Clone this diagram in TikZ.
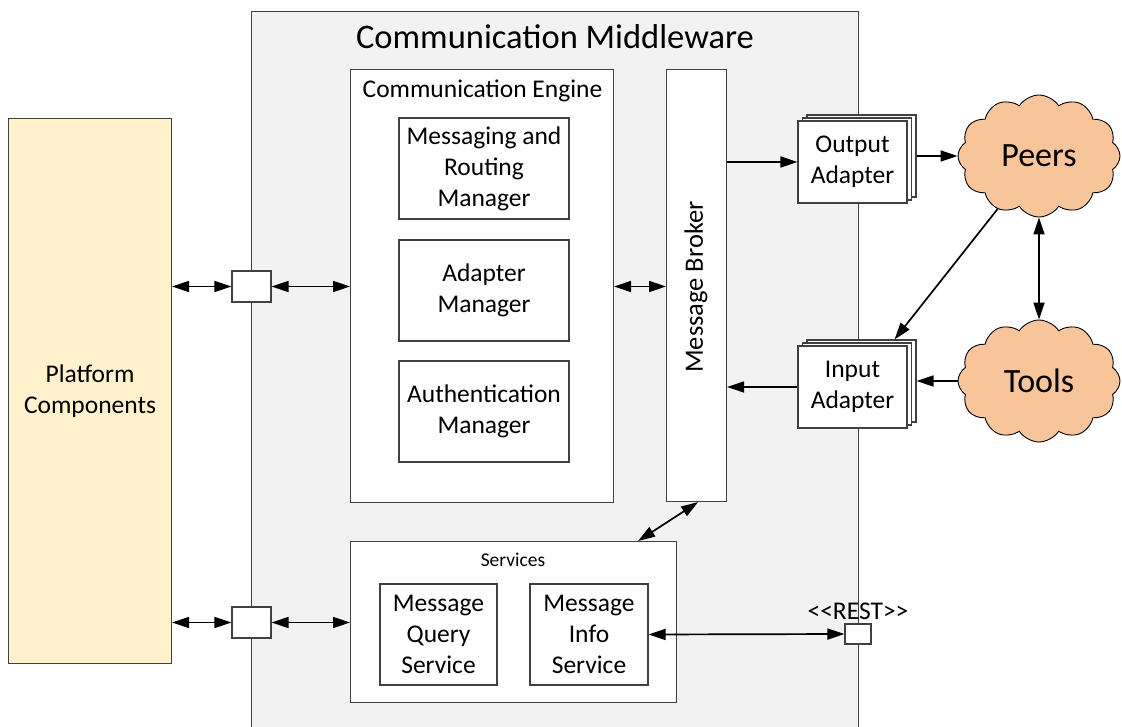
\documentclass[tikz,border=0pt]{standalone}
\usepackage{fontspec}
\setmainfont{Carlito}
\usetikzlibrary{arrows.meta,shapes.symbols}
\definecolor{edgegray}{HTML}{404040}
\definecolor{mwfill}{HTML}{F2F2F2}
\definecolor{platfill}{HTML}{FFF2CC}
\definecolor{cloudfill}{HTML}{F8C49A}
\begin{document}
\begin{tikzpicture}[x=1pt,y=-1pt,
  box/.style={draw=edgegray,line width=1.1pt,fill=white,align=center,
    inner sep=0pt,font=\fontsize{25.5}{31}\selectfont},
  port/.style={draw=edgegray,line width=1.1pt,fill=white,inner sep=0pt},
  cloudnode/.style={cloud,cloud puffs=12,cloud puff arc=115,aspect=1.35,
    draw=black,line width=0.9pt,fill=cloudfill,inner sep=0pt,
    font=\fontsize{34}{36}\selectfont},
  tip/.tip={Triangle[length=17pt,width=11pt]},
  link/.style={line width=1.7pt,-tip},
  bilink/.style={line width=1.7pt,tip-tip},
  plain/.style={inner sep=0pt}]
\useasboundingbox (0,0) rectangle (1122,727);

% platform side
\node[box,fill=platfill,minimum width=163,minimum height=545,anchor=north west]
  (plat) at (8,118) {Platform\\Components};

% middleware container (runs off the bottom edge)
\node[draw=edgegray,line width=1.1pt,fill=mwfill,minimum width=607,minimum height=740,
  anchor=north west,inner sep=0pt] (mw) at (251,11) {};
\node[plain,font=\fontsize{34.5}{38}\selectfont] (mwtitle) at (555,37) {Communication Middleware};

% communication engine
\node[box,minimum width=263,minimum height=433,anchor=north west] (ce) at (350,69) {};
\node[plain,font=\fontsize{25.5}{28}\selectfont] (cetitle) at (482.5,91) {Communication Engine};
\node[box,minimum width=170,minimum height=101] (mrm) at (484,168.5) {Messaging and\\Routing\\Manager};
\node[box,minimum width=170,minimum height=101] (am) at (484,290.5) {Adapter\\Manager};
\node[box,minimum width=170,minimum height=101] (aum) at (484,411.5) {Authentication\\Manager};

% message broker
\node[box,minimum width=60,minimum height=432,anchor=north west] (mb) at (666,69) {};
\node[plain,rotate=90,font=\fontsize{26.5}{28}\selectfont] (mbtext) at (696,287) {Message Broker};

% services
\node[box,minimum width=326,minimum height=161,anchor=north west] (svc) at (350,541) {};
\node[plain,font=\fontsize{19.5}{22}\selectfont] (svctitle) at (513,560) {Services};
\node[box,minimum width=117,minimum height=101] (mqs) at (438.5,634.5) {Message\\Query\\Service};
\node[box,minimum width=118,minimum height=101] (mis) at (589,634.5) {Message\\Info\\Service};

% ports on the container border
\node[port,minimum width=39,minimum height=31] (p1) at (251.5,286.5) {};
\node[port,minimum width=39,minimum height=31] (p2) at (251.5,622.5) {};
\node[port,minimum width=26,minimum height=20] (rest) at (858,634) {};
\node[plain,anchor=south,font=\fontsize{25.5}{28}\selectfont] (resttext) at (858,620) {<{}<REST>{}>};

% stacked adapters
\foreach \n/\cy/\txt in {oa/162/{Output\\Adapter},ia/387/{Input\\Adapter}}{
  \node[box,minimum width=109,minimum height=82] (\n3) at (861.5,\cy-6) {};
  \node[box,minimum width=109,minimum height=82] (\n2) at (857,\cy-3) {};
  \node[box,minimum width=109,minimum height=82] (\n) at (852.5,\cy) {\txt};
}

% external clouds
\node[cloudnode,minimum width=162,minimum height=122] (peers) at (1039,156) {Peers};
\node[cloudnode,minimum width=162,minimum height=122] (tools) at (1039,381) {Tools};

% connectors
\draw[bilink] (plat.east |- p1) -- (p1.west);
\draw[bilink] (p1.east) -- (ce.west |- p1);
\draw[bilink] (plat.east |- p2) -- (p2.west);
\draw[bilink] (p2.east) -- (svc.west |- p2);
\draw[bilink] (ce.east |- p1) -- (mb.west |- p1);
\draw[link] (mb.east |- oa.west) -- (oa.west);
\draw[link] (oa3.east |- peers.west) -- (peers.west);
\draw[link] (peers.232) -- ([xshift=-22pt]ia3.north east);
\draw[bilink] (peers.south) -- (tools.north);
\draw[link] (tools.west) -- (ia3.east |- tools.west);
\draw[link] (ia.west) -- (mb.east |- ia.west);
\draw[bilink] ([xshift=-29pt]mb.south east) -- ([xshift=-39pt]svc.north east);
\draw[bilink] (mis.east) -- (rest.west);
\end{tikzpicture}
\end{document}
